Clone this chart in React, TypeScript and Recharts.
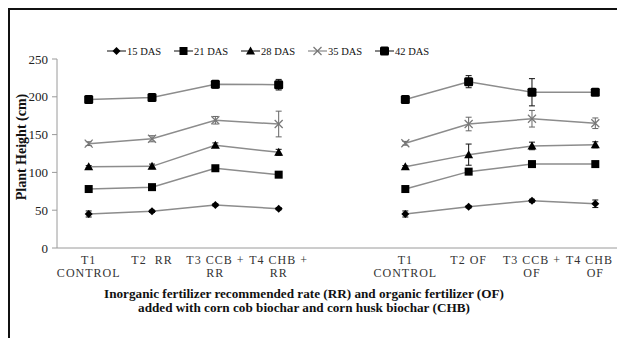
import React from "react";
import { ComposedChart, Line, XAxis, YAxis, ErrorBar } from "recharts";

const categories = [
  "T1\nCONTROL",
  "T2  RR",
  "T3 CCB +\nRR",
  "T4 CHB +\nRR",
  "",
  "T1\nCONTROL",
  "T2 OF",
  "T3 CCB +\nOF",
  "T4 CHB +\nOF",
];

const das15 = [45, 48.5, 57, 52, null, 45, 54.5, 62.5, 58.5];
const das21 = [78, 80.5, 105.5, 97, null, 78, 101, 111, 111];
const das28 = [107.5, 108, 136, 126.5, null, 107.5, 123.5, 135, 136.5];
const das35 = [138, 144.5, 169, 164, null, 138.5, 164, 171, 165];
const das42 = [196.5, 199, 216.5, 216, null, 196.5, 220, 206, 206];

const err15 = [4, 1.5, 1.5, 1.5, null, 4, 1.5, 2, 5];
const err21 = [2, 2, 2, 2, null, 2, 3, 2, 3];
const err28 = [1.5, 3, 3, 4, null, 1.5, 14, 5, 4];
const err35 = [2.5, 4, 5, 17, null, 2.5, 9, 11, 7];
const err42 = [4, 4, 5, 7, null, 3, 8, 18, 3];

const yTicks = [0, 50, 100, 150, 200, 250];

const data = categories.map((label, i) => ({
  label,
  d15: das15[i],
  e15: err15[i],
  d21: das21[i],
  e21: err21[i],
  d28: das28[i],
  e28: err28[i],
  d35: das35[i],
  e35: err35[i],
  d42: das42[i],
  e42: err42[i],
}));

const FONT = "'Liberation Serif', 'Times New Roman', serif";
const LINE = "#8c8c8c";

type Kind = "diamond" | "square" | "triangle" | "cross" | "bigsquare";

const Marker = ({ kind, cx, cy }: { kind: Kind; cx: number; cy: number }) => {
  if (kind === "diamond")
    return <polygon points={`${cx},${cy - 4} ${cx + 4},${cy} ${cx},${cy + 4} ${cx - 4},${cy}`} fill="#000" />;
  if (kind === "square")
    return <rect x={cx - 4} y={cy - 4} width={8} height={8} fill="#000" />;
  if (kind === "bigsquare")
    return <rect x={cx - 4.5} y={cy - 4.5} width={9} height={9} rx={1.5} fill="#000" />;
  if (kind === "triangle")
    return <polygon points={`${cx},${cy - 4.5} ${cx + 4.5},${cy + 3.5} ${cx - 4.5},${cy + 3.5}`} fill="#000" />;
  return (
    <g stroke="#777" strokeWidth={1.2}>
      <line x1={cx - 4} y1={cy - 4} x2={cx + 4} y2={cy + 4} />
      <line x1={cx - 4} y1={cy + 4} x2={cx + 4} y2={cy - 4} />
    </g>
  );
};

const dotFor = (kind: Kind) => (props: any) => {
  const { cx, cy, index } = props;
  if (cx == null || cy == null || props.value == null) return <g key={`${kind}-${index}`} />;
  return (
    <g key={`${kind}-${index}`}>
      <Marker kind={kind} cx={cx} cy={cy} />
    </g>
  );
};

const series: { key: string; err: string; name: string; kind: Kind; bar: string }[] = [
  { key: "d15", err: "e15", name: "15 DAS", kind: "diamond", bar: "#111" },
  { key: "d21", err: "e21", name: "21 DAS", kind: "square", bar: "#111" },
  { key: "d28", err: "e28", name: "28 DAS", kind: "triangle", bar: "#111" },
  { key: "d35", err: "e35", name: "35 DAS", kind: "cross", bar: "#666" },
  { key: "d42", err: "e42", name: "42 DAS", kind: "bigsquare", bar: "#111" },
];

const XTick = (props: any) => {
  const { x, y, payload } = props;
  if (!payload || !payload.value) return <g />;
  const lines = String(payload.value).split("\n");
  return (
    <g transform={`translate(${x},${y})`}>
      <text
        textAnchor="middle"
        fontSize={12}
        fill="#333"
        style={{ fontFamily: FONT, letterSpacing: 1 }}
      >
        {lines.map((l, k) => (
          <tspan key={k} x={0} dy={k === 0 ? 16 : 13} style={{ whiteSpace: "pre" }}>
            {l}
          </tspan>
        ))}
      </text>
    </g>
  );
};

const LegendRow = () => (
  <div
    style={{
      position: "absolute",
      left: 97,
      top: 35,
      display: "flex",
      fontFamily: FONT,
      fontSize: 10.5,
      color: "#111",
    }}
  >
    {series.map((s) => (
      <div key={s.key} style={{ width: 67, display: "flex", alignItems: "center" }}>
        <svg width={19} height={12}>
          <line x1={0} y1={6} x2={19} y2={6} stroke={s.kind === "cross" ? "#888" : "#333"} strokeWidth={1.2} />
          <Marker kind={s.kind} cx={9.5} cy={6} />
        </svg>
        <span style={{ marginLeft: 1 }}>{s.name}</span>
      </div>
    ))}
  </div>
);

export default function App() {
  return (
    <div
      style={{
        position: "fixed",
        left: 8,
        top: 8,
        width: 609,
        height: 330,
        boxSizing: "border-box",
        borderLeft: "2px solid #111",
        borderTop: "2px solid #111",
        overflow: "hidden",
        background: "#fff",
      }}
    >
      <ComposedChart
        width={620}
        height={318}
        data={data}
        margin={{ top: 49, right: 3, left: 0, bottom: 40 }}
        style={{ fontFamily: FONT }}
      >
        <XAxis
          dataKey="label"
          padding={{ left: 31.7, right: 31.7 }}
          height={40}
          interval={0}
          tickLine={false}
          tickSize={0}
          tickMargin={0}
          axisLine={{ stroke: "#9a9a9a" }}
          tick={<XTick />}
        />
        <YAxis
          width={47}
          domain={[0, 250]}
          ticks={yTicks}
          axisLine={{ stroke: "#9a9a9a" }}
          tickLine={{ stroke: "#9a9a9a" }}
          tickSize={5}
          tickMargin={4}
          tick={{ fontSize: 13, fill: "#222", fontFamily: FONT }}
        />
        {series.map((s) => (
          <Line
            key={s.key}
            dataKey={s.key}
            name={s.name}
            stroke={LINE}
            strokeWidth={1.5}
            dot={dotFor(s.kind)}
            activeDot={false}
            isAnimationActive={false}
          >
            <ErrorBar dataKey={s.err} width={3} stroke={s.bar} strokeWidth={1} isAnimationActive={false} />
          </Line>
        ))}
      </ComposedChart>
      <LegendRow />
      <div
        style={{
          position: "absolute",
          left: 12,
          top: 137,
          transform: "translate(-50%, -50%) rotate(-90deg)",
          whiteSpace: "nowrap",
          fontFamily: FONT,
          fontWeight: "bold",
          fontSize: 14,
          color: "#111",
        }}
      >
        Plant Height (cm)
      </div>
      <div
        style={{
          position: "absolute",
          left: 294,
          top: 277,
          transform: "translateX(-50%)",
          whiteSpace: "nowrap",
          textAlign: "center",
          fontFamily: FONT,
          fontWeight: "bold",
          fontSize: 13.2,
          lineHeight: "14px",
          color: "#111",
        }}
      >
        Inorganic fertilizer recommended rate (RR) and organic fertilizer (OF)
        <br />
        added with corn cob biochar and corn husk biochar (CHB)
      </div>
    </div>
  );
}
